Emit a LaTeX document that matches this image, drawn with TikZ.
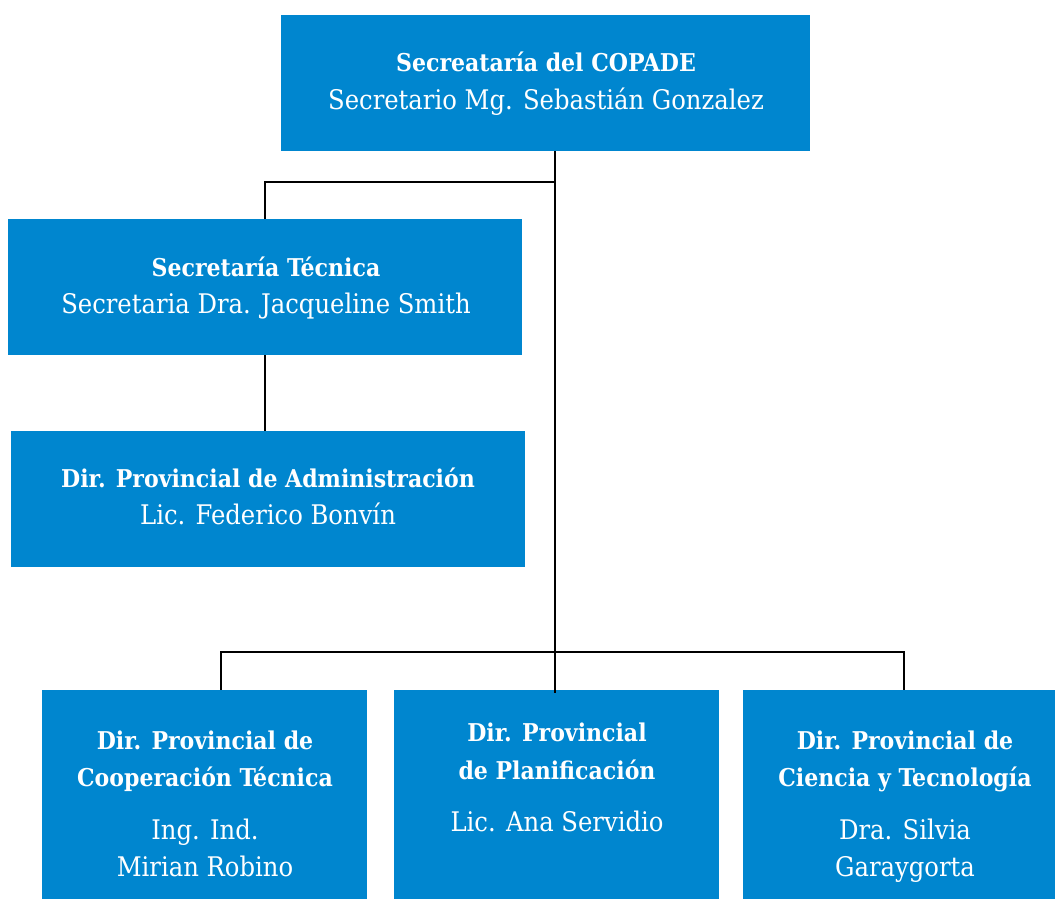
\documentclass[tikz,border=0pt]{standalone}
\usepackage{fontspec}
\setmainfont{DejaVu Serif Condensed}
\definecolor{boxblue}{RGB}{0,134,207}
\tikzset{
  orgbox/.style={fill=boxblue, draw=none, inner sep=0pt, minimum width=#1},
  ln/.style={draw=black, line width=2.8pt},
  hd/.style={anchor=base, text=white, inner sep=0pt, font=\fontsize{24.5}{28}\selectfont\bfseries},
  tx/.style={anchor=base, text=white, inner sep=0pt, font=\fontsize{27}{30}\selectfont},
}
\begin{document}
\begin{tikzpicture}[x=1pt,y=-1pt]
\useasboundingbox (0,0) rectangle (1055,900);
% boxes
\node[orgbox=529pt, minimum height=136pt] (top) at (545.5,83) {};
\node[orgbox=514pt, minimum height=136pt] (sec) at (265,287) {};
\node[orgbox=514pt, minimum height=136pt] (adm) at (268,499) {};
\node[orgbox=325pt, minimum height=209pt] (coop) at (204.5,794.5) {};
\node[orgbox=325pt, minimum height=209pt] (plan) at (556.5,794.5) {};
\node[orgbox=324pt, minimum height=209pt] (cien) at (905,794.5) {};
% connectors
\coordinate (j1) at (555,182);
\coordinate (j2) at (555,652);
\draw[ln] (top.south -| j1) -- (j1) -| (sec.north);
\draw[ln] (sec.south) -- (sec.south |- adm.north);
\draw[ln] (j1) -- (j2) -- ([yshift=-3pt]plan.north -| j2);
\draw[ln] (coop.north -| 221,0) |- (j2) -| (cien.north -| 904,0);
% texts
\node[hd] (t1) at (546,71) {Secreatar\'ia del COPADE};
\node[tx] (t2) at (546,109) {Secretario Mg. Sebasti\'an Gonzalez};
\node[hd] (s1) at (266,276) {Secretar\'ia T\'ecnica};
\node[tx] (s2) at (266,313.5) {Secretaria Dra. Jacqueline Smith};
\node[hd] (a1) at (268,487) {Dir. Provincial de Administraci\'on};
\node[tx] (a2) at (268,524) {Lic. Federico Bonv\'in};
\node[hd] (c1) at (205,749) {Dir. Provincial de};
\node[hd] (c2) at (205,786) {Cooperaci\'on T\'ecnica};
\node[tx] (c3) at (205,839) {Ing. Ind.};
\node[tx] (c4) at (205,876) {Mirian Robino};
\node[hd] (p1) at (557,741) {Dir. Provincial};
\node[hd] (p2) at (557,779) {de Planificaci\'on};
\node[tx] (p3) at (557,831) {Lic. Ana Servidio};
\node[hd] (g1) at (905,749) {Dir. Provincial de};
\node[hd] (g2) at (905,786) {Ciencia y Tecnolog\'ia};
\node[tx] (g3) at (905,839) {Dra. Silvia};
\node[tx] (g4) at (905,876) {Garaygorta};
\end{tikzpicture}
\end{document}
